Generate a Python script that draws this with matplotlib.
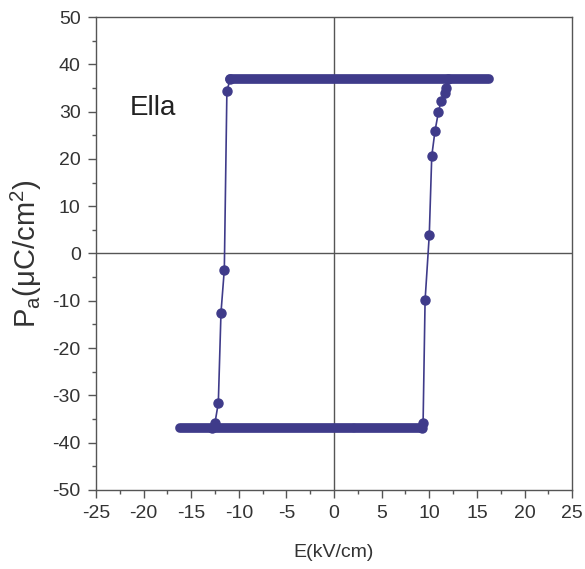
"""Ferroelectric P-E hysteresis loop (Ella)."""
import matplotlib
matplotlib.use('Agg')
import matplotlib.pyplot as plt
from matplotlib.ticker import MultipleLocator

plt.rcParams['font.family'] = ['Liberation Sans', 'DejaVu Sans']
plt.rcParams['mathtext.fontset'] = 'custom'
plt.rcParams['mathtext.rm'] = 'Liberation Sans'
plt.rcParams['mathtext.it'] = 'Liberation Sans:italic'
plt.rcParams['axes.unicode_minus'] = False

# switching branch on the way down (field decreasing)
down_E = [-10.9, -11.25, -11.52, -11.87, -12.15, -12.5, -12.8]
down_P = [37.0, 34.3, -3.4, -12.5, -31.6, -35.8, -37.0]

# switching branch on the way up (field increasing)
up_E = [9.2, 9.35, 9.56, 10.0, 10.26, 10.6, 10.96, 11.24, 11.6, 11.8, 12.0]
up_P = [-37.0, -35.9, -9.9, 3.9, 20.6, 25.9, 29.9, 32.3, 34.0, 35.0, 37.0]

# saturated plateaus (dense measured points, drawn as a packed band)
top_E = [-10.9, 16.3]
top_P = [37.0, 37.0]
bottom_left_E = [-16.2, 2.0]
bottom_right_E = [2.2, 9.2]
bottom_P = [-37.0, -37.0]

color = '#3f3b8a'

fig = plt.figure(figsize=(5.85, 5.69), dpi=100)
ax = fig.add_axes([0.164, 0.139, 0.814, 0.831])

ax.axhline(0, color='#555555', lw=1.0, zorder=1)
ax.axvline(0, color='#555555', lw=1.0, zorder=1)

for xs, ys in [(top_E, top_P), (bottom_left_E, bottom_P), (bottom_right_E, bottom_P)]:
    ax.plot(xs, ys, color=color, lw=7, solid_capstyle='round', zorder=3)

ax.plot(down_E, down_P, '-o', color=color, lw=1.2, markersize=6.5, zorder=3)
ax.plot(up_E, up_P, '-o', color=color, lw=1.2, markersize=6.5, zorder=3)

ax.text(-21.5, 29.2, 'Ella', fontsize=20, color='#222222', va='baseline')

ax.set_xlim(-25, 25)
ax.set_ylim(-50, 50)
ax.xaxis.set_major_locator(MultipleLocator(5))
ax.xaxis.set_minor_locator(MultipleLocator(2.5))
ax.yaxis.set_major_locator(MultipleLocator(10))
ax.yaxis.set_minor_locator(MultipleLocator(5))
ax.tick_params(which='both', direction='out', colors='#555555', labelcolor='#333333',
               labelsize=14, width=1.0)
ax.tick_params(which='major', length=6, pad=5)
ax.tick_params(which='minor', length=3)
for s in ax.spines.values():
    s.set_color('#555555')
    s.set_linewidth(1.0)

ax.set_xlabel('E(kV/cm)', fontsize=14, color='#333333', labelpad=16)
ax.set_ylabel(r'P$_\mathrm{a}$($\mathrm{\mu}$C/cm$^2$)', fontsize=21, color='#333333', labelpad=6)

fig.savefig('out.png', dpi=100)
